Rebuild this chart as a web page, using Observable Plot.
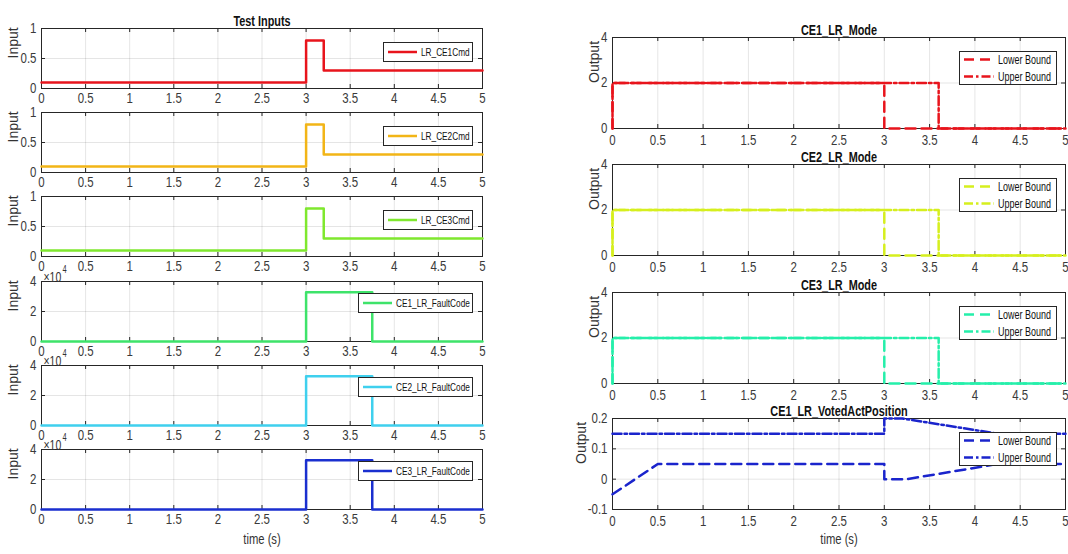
<!DOCTYPE html>
<html><head><meta charset="utf-8">
<script src="https://cdn.jsdelivr.net/npm/d3@7"></script>
<script src="https://cdn.jsdelivr.net/npm/@observablehq/plot@0.6"></script>
<style>
body{margin:0;background:#fff;}
#root{position:relative;width:1068px;height:554px;overflow:hidden;background:#fff;font-family:"Liberation Sans",Arial,sans-serif;}
#root svg{position:absolute;overflow:visible;}
</style></head><body><div id="root"></div>
<script>
// ---- data ----
const xTicks = [0, 0.5, 1, 1.5, 2, 2.5, 3, 3.5, 4, 4.5, 5];
const cmdTicks = [0, 0.5, 1];
const faultTicks = [0, 20000, 40000];
const modeTicks = [0, 2, 4];
const voteTicks = [-0.1, 0, 0.1, 0.2];

const cmdTime = [0, 3, 3.2, 5];
const ce1Cmd = [0.1, 0.8, 0.3, 0.3];
const ce2Cmd = [0.1, 0.8, 0.3, 0.3];
const ce3Cmd = [0.1, 0.8, 0.3, 0.3];

const faultTime = [0, 3, 3.75, 5];
const ce1Fault = [0, 32768, 0, 0];
const ce2Fault = [0, 32768, 0, 0];
const ce3Fault = [0, 32768, 0, 0];

const modeLowerTime = [0, 0, 3, 5];
const modeUpperTime = [0, 0, 3.6, 5];
const ce1ModeLower = [0, 2, 0, 0];
const ce1ModeUpper = [0, 2, 0, 0];
const ce2ModeLower = [0, 2, 0, 0];
const ce2ModeUpper = [0, 2, 0, 0];
const ce3ModeLower = [0, 2, 0, 0];
const ce3ModeUpper = [0, 2, 0, 0];

const voteLowerTime = [0, 0.5, 3, 3, 3.25, 4.25, 5];
const voteLower = [-0.05, 0.05, 0.05, 0, 0, 0.05, 0.05];
const voteUpperTime = [0, 3, 3, 3.2, 4.25, 5];
const voteUpper = [0.15, 0.15, 0.2, 0.2, 0.15, 0.15];

// ---- drawing ----
const root = document.getElementById("root");
const AX = "#262626";
const LOWER_DASH = "10,6";
const UPPER_DASH = "9,3,2.5,3";
const SQUEEZE = 0.75;
const TICK_SQUEEZE = 0.82;
const FONT = "'Liberation Sans',Arial,sans-serif";

function rows(t, v) { return t.map((d, i) => ({t: d, v: v[i]})); }

function condense(svg) {
  svg.querySelectorAll("text").forEach(t => {
    const tr = t.getAttribute("transform") || "";
    if (tr.includes("rotate")) return;
    const k = t.closest('[aria-label$="tick label"]') ? TICK_SQUEEZE : SQUEEZE;
    if (!tr) {
      const x = +t.getAttribute("x") || 0, y = +t.getAttribute("y") || 0;
      t.setAttribute("x", 0); t.setAttribute("y", 0);
      t.setAttribute("transform", `translate(${x},${y}) scale(${k},1)`);
    } else {
      t.setAttribute("transform", tr + ` scale(${k},1)`);
    }
  });
}

function panel(cfg) {
  const {fl, ft, w, h, yDomain, yTicks, yFormat, series, ylabel, ylabelDx, title, xlabel, exponent, xPad} = cfg;
  const mL = 50, mR = 10, mT = 20, mB = 30;
  const marks = [
    Plot.gridX(xTicks, {stroke: "#000", strokeOpacity: 0.1}),
    Plot.gridY(yTicks, {stroke: "#000", strokeOpacity: 0.1}),
    Plot.frame({stroke: AX, strokeWidth: 1}),
    Plot.tickX(xTicks, {stroke: AX, insetTop: h - 4}),
    Plot.tickX(xTicks, {stroke: AX, insetBottom: h - 4}),
    Plot.tickY(yTicks, {stroke: AX, insetRight: w - 4}),
    Plot.tickY(yTicks, {stroke: AX, insetLeft: w - 4}),
    ...series.map(s => Plot.line(rows(s.t, s.v), {x: "t", y: "v", curve: s.curve || "linear", stroke: s.color, strokeWidth: 2.5, strokeDasharray: s.dash})),
    Plot.axisX(xTicks, {tickSize: 0, tickPadding: xPad, fontSize: 14, color: "#3a3a3a", label: null, tickFormat: d => String(d)}),
    Plot.axisY(yTicks, {tickSize: 0, tickPadding: 5, fontSize: 14, color: "#3a3a3a", label: null, tickFormat: yFormat || (d => String(d))}),
    Plot.text([ylabel], {frameAnchor: "left", rotate: -90, dx: ylabelDx, fontSize: 14, fill: "#333"})
  ];
  if (title) marks.push(Plot.text([title], {frameAnchor: "top", dy: -13, fontSize: 14.5, fontWeight: "bold", fill: "#111"}));
  if (xlabel) marks.push(Plot.text([xlabel], {frameAnchor: "bottom", dy: 34, fontSize: 15, fill: "#333"}));
  if (exponent) {
    marks.push(Plot.text(["×10"], {frameAnchor: "top-left", dx: 2, dy: -9, textAnchor: "start", fontSize: 14, fill: "#333"}));
    marks.push(Plot.text([exponent], {frameAnchor: "top-left", dx: 21, dy: -16, textAnchor: "start", fontSize: 10, fill: "#333"}));
  }
  const svg = Plot.plot({
    width: mL + w + mR, height: mT + h + mB,
    marginLeft: mL, marginRight: mR, marginTop: mT, marginBottom: mB,
    x: {domain: [0, 5]},
    y: {domain: yDomain},
    style: {background: "none", overflow: "visible", fontFamily: FONT},
    marks
  });
  condense(svg);
  svg.style.left = (fl - mL) + "px";
  svg.style.top = (ft - mT) + "px";
  root.appendChild(svg);
}

function legend(x, y, w, h, entries, fs, textX) {
  const svg = d3.create("svg").attr("width", w).attr("height", h)
    .style("left", x + "px").style("top", y + "px");
  svg.append("rect").attr("x", 0.5).attr("y", 0.5).attr("width", w - 1).attr("height", h - 1)
    .attr("fill", "#fff").attr("stroke", AX);
  entries.forEach((e, i) => {
    const cy = h * (i + 0.5) / entries.length;
    svg.append("line").attr("x1", 5).attr("x2", textX - 4).attr("y1", cy).attr("y2", cy)
      .attr("stroke", e.color).attr("stroke-width", 2.5).attr("stroke-dasharray", e.dash || null);
    svg.append("text").attr("transform", `translate(${textX},${cy}) scale(${SQUEEZE},1)`).attr("dy", "0.35em")
      .attr("font-size", fs).attr("fill", "#111")
      .attr("font-family", FONT)
      .text(e.label);
  });
  root.appendChild(svg.node());
}

// Left column
const LW = 441, LH = 60, LL = 41;
const leftTops = [28, 112, 196, 281, 365, 449];
const leftDefs = [
  {name: "LR_CE1Cmd", t: cmdTime, v: ce1Cmd, color: "#e8141c", dom: [0, 1], ticks: cmdTicks},
  {name: "LR_CE2Cmd", t: cmdTime, v: ce2Cmd, color: "#f2b517", dom: [0, 1], ticks: cmdTicks},
  {name: "LR_CE3Cmd", t: cmdTime, v: ce3Cmd, color: "#7fe82e", dom: [0, 1], ticks: cmdTicks},
  {name: "CE1_LR_FaultCode", t: faultTime, v: ce1Fault, color: "#3ee36a", dom: [0, 40000], ticks: faultTicks, exp: "4"},
  {name: "CE2_LR_FaultCode", t: faultTime, v: ce2Fault, color: "#3fd0ee", dom: [0, 40000], ticks: faultTicks, exp: "4"},
  {name: "CE3_LR_FaultCode", t: faultTime, v: ce3Fault, color: "#1a2fcf", dom: [0, 40000], ticks: faultTicks, exp: "4"}
];
leftDefs.forEach((d, i) => {
  panel({
    fl: LL, ft: leftTops[i], w: LW, h: LH,
    yDomain: d.dom, yTicks: d.ticks,
    yFormat: d.exp ? (v => String(v / 1e4)) : null,
    series: [{t: d.t, v: d.v, color: d.color, curve: "step-after"}],
    ylabel: "Input", ylabelDx: -28, xPad: 5,
    title: i === 0 ? "Test Inputs" : null,
    xlabel: i === 5 ? "time (s)" : null,
    exponent: d.exp
  });
});
leftDefs.forEach((d, i) => {
  if (d.exp) legend(358, leftTops[i] + 12, 115, 20, [{label: d.name, color: d.color}], 11, 38);
  else legend(383, leftTops[i] + 14, 90, 20, [{label: d.name, color: d.color}], 11, 38);
});

// Right column
const RW = 453, RH = 91, RL = 612;
const rightTops = [37, 164, 292, 418];
const rightDefs = [
  {title: "CE1_LR_Mode", color: "#e8141c", lt: modeLowerTime, lv: ce1ModeLower, ut: modeUpperTime, uv: ce1ModeUpper, dom: [0, 4], ticks: modeTicks, curve: "step-after", dx: -18},
  {title: "CE2_LR_Mode", color: "#d6ef1e", lt: modeLowerTime, lv: ce2ModeLower, ut: modeUpperTime, uv: ce2ModeUpper, dom: [0, 4], ticks: modeTicks, curve: "step-after", dx: -18},
  {title: "CE3_LR_Mode", color: "#25efaa", lt: modeLowerTime, lv: ce3ModeLower, ut: modeUpperTime, uv: ce3ModeUpper, dom: [0, 4], ticks: modeTicks, curve: "step-after", dx: -18},
  {title: "CE1_LR_VotedActPosition", color: "#1a24cc", lt: voteLowerTime, lv: voteLower, ut: voteUpperTime, uv: voteUpper, dom: [-0.1, 0.2], ticks: voteTicks, curve: "linear", dx: -31}
];
rightDefs.forEach((d, i) => {
  panel({
    fl: RL, ft: rightTops[i], w: RW, h: RH,
    yDomain: d.dom, yTicks: d.ticks,
    series: [
      {t: d.lt, v: d.lv, color: d.color, curve: d.curve, dash: LOWER_DASH},
      {t: d.ut, v: d.uv, color: d.color, curve: d.curve, dash: UPPER_DASH}
    ],
    ylabel: "Output", ylabelDx: d.dx, xPad: 6.5,
    title: d.title,
    xlabel: i === 3 ? "time (s)" : null
  });
});
rightDefs.forEach((d, i) => {
  legend(959, rightTops[i] + 14, 98, 34, [
    {label: "Lower Bound", color: d.color, dash: LOWER_DASH},
    {label: "Upper Bound", color: d.color, dash: UPPER_DASH}
  ], 12, 39);
});
</script></body></html>
